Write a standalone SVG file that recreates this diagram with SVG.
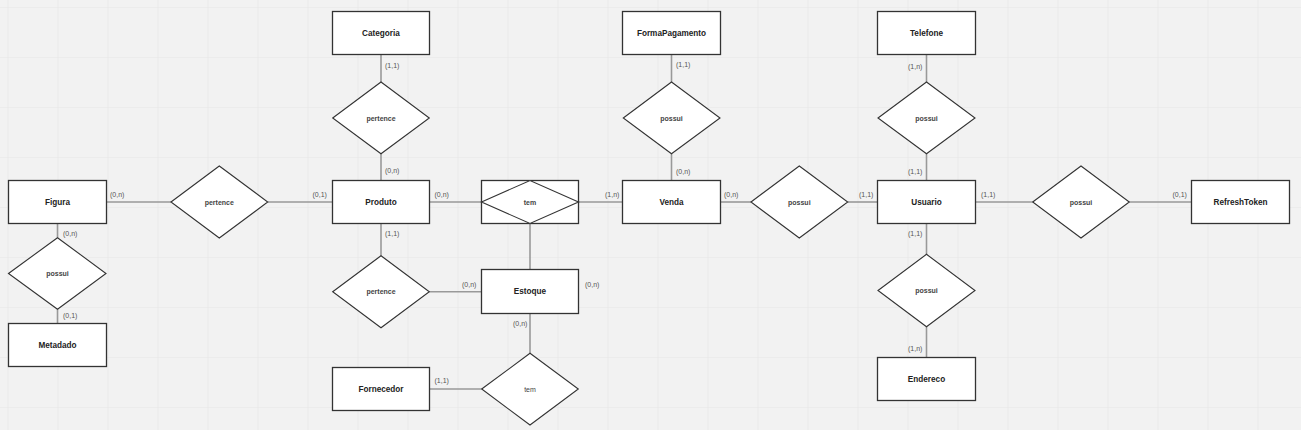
<svg xmlns="http://www.w3.org/2000/svg" width="1301" height="430" viewBox="0 0 1301 430">
<defs>
<pattern id="grid" x="7.5" y="7" width="50" height="50" patternUnits="userSpaceOnUse">
<path d="M0 0H50M0 0V50" fill="none" stroke="#e6e6e6" stroke-width="1.2"/>
</pattern>
</defs>
<style>
.ent rect{fill:#fff;stroke:#333;stroke-width:1.3}
.rel polygon{fill:#fff;stroke:#333;stroke-width:1.1}
.et{font-family:"Liberation Sans",Arial,sans-serif;font-size:8.2px;font-weight:bold;fill:#222;text-anchor:middle;dominant-baseline:central}
.rt{font-family:"Liberation Sans",Arial,sans-serif;font-size:7px;font-weight:bold;fill:#444;text-anchor:middle;dominant-baseline:central}
.card{font-family:"Liberation Sans",Arial,sans-serif;font-size:7px;fill:#555}
#connectors line{stroke:#999;stroke-width:1.6}
</style>
<rect width="1301" height="430" fill="#f2f2f2"/>
<rect width="1301" height="430" fill="url(#grid)"/>

<g id="connectors">
<line x1="106" y1="202" x2="171" y2="202"/>
<line x1="267.7" y1="202" x2="332.5" y2="202"/>
<line x1="57.5" y1="223.5" x2="57.5" y2="237.7"/>
<line x1="57.5" y1="309.3" x2="57.5" y2="323.5"/>
<line x1="381" y1="54.5" x2="381" y2="82"/>
<line x1="381" y1="153.7" x2="381" y2="180.5"/>
<line x1="429.5" y1="202" x2="481.5" y2="202"/>
<line x1="578.5" y1="202" x2="622.5" y2="202"/>
<line x1="530" y1="223.5" x2="530" y2="269.5"/>
<line x1="381" y1="223.5" x2="381" y2="255.7"/>
<line x1="429.3" y1="291.7" x2="481.5" y2="291.7"/>
<line x1="530" y1="313.5" x2="530" y2="353.3"/>
<line x1="429.5" y1="389" x2="481.7" y2="389"/>
<line x1="671.5" y1="54.5" x2="671.5" y2="82"/>
<line x1="671.5" y1="153.7" x2="671.5" y2="180.5"/>
<line x1="720.5" y1="202" x2="751" y2="202"/>
<line x1="847.7" y1="202" x2="877.5" y2="202"/>
<line x1="926.5" y1="54.5" x2="926.5" y2="82"/>
<line x1="926.5" y1="153.7" x2="926.5" y2="180.5"/>
<line x1="975.5" y1="202" x2="1032.7" y2="202"/>
<line x1="1129.3" y1="202" x2="1191.5" y2="202"/>
<line x1="926.5" y1="223.5" x2="926.5" y2="254.3"/>
<line x1="926.5" y1="326.7" x2="926.5" y2="357.5"/>
</g>

<g id="Figura" class="ent"><rect x="8.5" y="180.5" width="98" height="43"/><text class="et" x="57.5" y="202">Figura</text></g>
<g id="Metadado" class="ent"><rect x="8.5" y="323.5" width="98" height="43"/><text class="et" x="57.5" y="345">Metadado</text></g>
<g id="Categoria" class="ent"><rect x="332.5" y="11.5" width="97" height="43"/><text class="et" x="381" y="33">Categoria</text></g>
<g id="Produto" class="ent"><rect x="332.5" y="180.5" width="97" height="43"/><text class="et" x="381" y="202">Produto</text></g>
<g id="Estoque" class="ent"><rect x="481.5" y="269.5" width="97" height="44"/><text class="et" x="530" y="291.5">Estoque</text></g>
<g id="Fornecedor" class="ent"><rect x="332.5" y="367.5" width="97" height="43"/><text class="et" x="381" y="389">Fornecedor</text></g>
<g id="FormaPagamento" class="ent"><rect x="622.5" y="11.5" width="98" height="43"/><text class="et" x="671.5" y="33">FormaPagamento</text></g>
<g id="Venda" class="ent"><rect x="622.5" y="180.5" width="98" height="43"/><text class="et" x="671.5" y="202">Venda</text></g>
<g id="Telefone" class="ent"><rect x="877.5" y="11.5" width="98" height="43"/><text class="et" x="926.5" y="33">Telefone</text></g>
<g id="Usuario" class="ent"><rect x="877.5" y="180.5" width="98" height="43"/><text class="et" x="926.5" y="202">Usuario</text></g>
<g id="RefreshToken" class="ent"><rect x="1191.5" y="180.5" width="98" height="43"/><text class="et" x="1240.5" y="202">RefreshToken</text></g>
<g id="Endereco" class="ent"><rect x="877.5" y="357.5" width="98" height="43"/><text class="et" x="926.5" y="379">Endereco</text></g>

<g id="tem_venda" class="ent rel"><rect x="481.5" y="180.5" width="97" height="43"/><polygon points="481.5,202 530,180.5 578.5,202 530,223.5"/><text class="rt" x="530" y="202">tem</text></g>

<g id="pertence_figura" class="rel"><polygon points="171,202 219.3,166 267.7,202 219.3,238"/><text class="rt" x="219.3" y="202">pertence</text></g>
<g id="possui_metadado" class="rel"><polygon points="8.5,273.5 57.5,237.7 106,273.5 57.5,309.3"/><text class="rt" x="57.5" y="273.5">possui</text></g>
<g id="pertence_categoria" class="rel"><polygon points="332.7,118 381,82 429.3,118 381,153.7"/><text class="rt" x="381" y="118">pertence</text></g>
<g id="pertence_estoque" class="rel"><polygon points="332.7,291.7 381,255.7 429.3,291.7 381,327.7"/><text class="rt" x="381" y="291.7">pertence</text></g>
<g id="tem_fornecedor" class="rel"><polygon points="481.7,389 530,353.3 578.3,389 530,425"/><text class="rt" style="font-weight:normal" x="530" y="389">tem</text></g>
<g id="possui_pagamento" class="rel"><polygon points="623.3,118 671.5,82 720,118 671.5,153.7"/><text class="rt" x="671.5" y="118">possui</text></g>
<g id="possui_usuario" class="rel"><polygon points="751,202 799.3,166 847.7,202 799.3,238"/><text class="rt" x="799.3" y="202">possui</text></g>
<g id="possui_telefone" class="rel"><polygon points="878,118 926.5,82 975,118 926.5,153.7"/><text class="rt" x="926.5" y="118">possui</text></g>
<g id="possui_refresh" class="rel"><polygon points="1032.7,202 1081,166 1129.3,202 1081,238"/><text class="rt" x="1081" y="202">possui</text></g>
<g id="possui_endereco" class="rel"><polygon points="878,290.5 926.5,254.3 975,290.5 926.5,326.7"/><text class="rt" x="926.5" y="290.5">possui</text></g>

<g id="cardinalities">
<text class="card" x="110" y="197">(0,n)</text>
<text class="card" x="312.5" y="197">(0,1)</text>
<text class="card" x="63" y="236">(0,n)</text>
<text class="card" x="63" y="318">(0,1)</text>
<text class="card" x="385" y="67.5">(1,1)</text>
<text class="card" x="385" y="173">(0,n)</text>
<text class="card" x="434.5" y="196.5">(0,n)</text>
<text class="card" x="605" y="196.5">(1,n)</text>
<text class="card" x="385" y="235.5">(1,1)</text>
<text class="card" x="462" y="287">(0,n)</text>
<text class="card" x="585" y="287">(0,n)</text>
<text class="card" x="513" y="326">(0,n)</text>
<text class="card" x="434.5" y="382.5">(1,1)</text>
<text class="card" x="676" y="66.5">(1,1)</text>
<text class="card" x="676" y="173.5">(0,n)</text>
<text class="card" x="724" y="196.5">(0,n)</text>
<text class="card" x="859" y="196.5">(1,1)</text>
<text class="card" x="908" y="68.5">(1,n)</text>
<text class="card" x="908" y="173.5">(1,1)</text>
<text class="card" x="981" y="196.5">(1,1)</text>
<text class="card" x="1172.5" y="196.5">(0,1)</text>
<text class="card" x="908" y="235.5">(1,1)</text>
<text class="card" x="908" y="351">(1,n)</text>
</g>
</svg>
